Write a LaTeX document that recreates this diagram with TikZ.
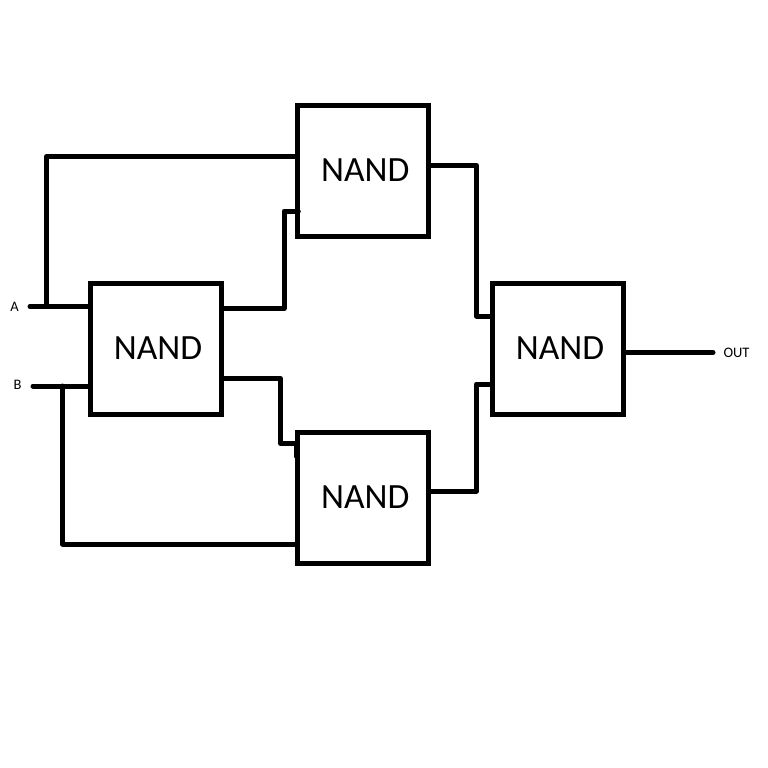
\documentclass[tikz,border=0pt]{standalone}
\usepackage{fontspec}
\setmainfont{Carlito}
\newcommand{\gatetext}{\hspace{4pt}\raisebox{1.3pt}{NAND}}
\tikzset{
  gate/.style={draw=black,line width=5pt,fill=white,minimum width=131pt,minimum height=131pt,inner sep=0pt,font=\fontsize{35.5}{38}\selectfont},
  wire/.style={draw=black,line width=5pt,line cap=round,line join=round},
  pin/.style={inner sep=0pt,font=\fontsize{14.5}{16}\selectfont}
}
\begin{document}
\begin{tikzpicture}[x=1pt,y=-1pt]
\useasboundingbox (0,0) rectangle (768,768);
\node[gate] (g1) at (156,349) {\gatetext};
\node[gate] (g2) at (363.25,170.5) {\gatetext};
\node[gate] (g3) at (363.25,498) {\gatetext};
\node[gate] (g4) at (558,349) {\gatetext};
\node[pin] (lA) at (14.5,307) {A};
\node[pin] (lB) at (17.5,385) {B};
\node[pin] (lO) at (736.5,353) {OUT};
\coordinate (a0) at (30,306.5);
\coordinate (b0) at (33,386);
\coordinate (o0) at (713,352.5);
\coordinate (aj) at (46.5,306.5);
\coordinate (bj) at (62.5,386);
\draw[wire] (a0) -- ([yshift=42.5pt]g1.west);
\draw[wire] (b0) -- ([yshift=-37pt]g1.west);
\draw[wire] (aj) |- ([yshift=14pt]g2.west);
\draw[wire] (bj) |- ([yshift=-46pt]g3.west);
\draw[wire] ([yshift=40.5pt]g1.east) -| (284,211) -- ([yshift=-40.5pt,xshift=3pt]g2.west);
\draw[wire] ([yshift=-29.5pt]g1.east) -| (280.5,443.5) -- ([yshift=54.5pt]g3.west);
\draw[wire] ([yshift=5pt]g2.east) -| (476.5,316) -- ([yshift=33pt]g4.west);
\draw[wire] ([yshift=7pt]g3.east) -| (476.5,384) -- ([yshift=-35pt]g4.west);
\draw[wire] ([yshift=-3.5pt]g4.east) -- (o0);
\draw[wire,line width=2pt] (294.8,446) -- (294.8,457);
\end{tikzpicture}
\end{document}
